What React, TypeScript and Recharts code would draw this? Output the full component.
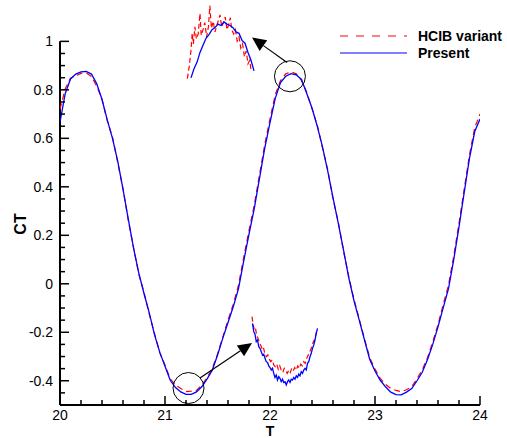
import React from 'react';
import {
  LineChart,
  Line,
  XAxis,
  YAxis,
  Legend,
  ReferenceDot,
  ReferenceLine,
} from 'recharts';

// main time axis, step 0.05
const T_MAIN = [
  20, 20.05, 20.1, 20.15, 20.2, 20.25, 20.3, 20.35, 20.4, 20.45,
  20.5, 20.55, 20.6, 20.65, 20.7, 20.75, 20.8, 20.85, 20.9, 20.95,
  21, 21.05, 21.1, 21.15, 21.2, 21.25, 21.3, 21.35, 21.4, 21.45,
  21.5, 21.55, 21.6, 21.65, 21.7, 21.75, 21.8, 21.85, 21.9, 21.95,
  22, 22.05, 22.1, 22.15, 22.2, 22.25, 22.3, 22.35, 22.4, 22.45,
  22.5, 22.55, 22.6, 22.65, 22.7, 22.75, 22.8, 22.85, 22.9, 22.95,
  23, 23.05, 23.1, 23.15, 23.2, 23.25, 23.3, 23.35, 23.4, 23.45,
  23.5, 23.55, 23.6, 23.65, 23.7, 23.75, 23.8, 23.85, 23.9, 23.95,
  24,
];

const CT_PRESENT = [
  0.667, 0.785, 0.845, 0.865, 0.874, 0.876, 0.865, 0.825, 0.76, 0.676,
  0.6, 0.505, 0.39, 0.268, 0.148, 0.045, -0.04, -0.12, -0.21, -0.282,
  -0.34, -0.398, -0.428, -0.446, -0.456, -0.456, -0.446, -0.425, -0.393, -0.357,
  -0.295, -0.225, -0.16, -0.095, -0.02, 0.095, 0.205, 0.31, 0.435, 0.56,
  0.665, 0.765, 0.83, 0.856, 0.867, 0.862, 0.843, 0.785, 0.725, 0.65,
  0.565, 0.465, 0.355, 0.25, 0.14, 0.025, -0.07, -0.15, -0.232, -0.312,
  -0.36, -0.398, -0.425, -0.447, -0.457, -0.458, -0.447, -0.432, -0.4, -0.365,
  -0.312, -0.25, -0.178, -0.098, -0.02, 0.1, 0.235, 0.378, 0.518, 0.628,
  0.68,
];

const CT_HCIB = [
  0.72, 0.805, 0.848, 0.858, 0.868, 0.87, 0.855, 0.815, 0.762, 0.672,
  0.605, 0.5, 0.392, 0.262, 0.15, 0.04, -0.035, -0.125, -0.205, -0.285,
  -0.335, -0.392, -0.418, -0.432, -0.445, -0.443, -0.44, -0.418, -0.388, -0.35,
  -0.29, -0.22, -0.15, -0.085, -0.005, 0.11, 0.22, 0.325, 0.45, 0.575,
  0.68, 0.78, 0.838, 0.866, 0.874, 0.866, 0.838, 0.79, 0.722, 0.655,
  0.56, 0.47, 0.35, 0.255, 0.135, 0.03, -0.065, -0.145, -0.228, -0.305,
  -0.352, -0.39, -0.415, -0.432, -0.44, -0.445, -0.437, -0.425, -0.392, -0.355,
  -0.305, -0.24, -0.168, -0.085, -0.005, 0.115, 0.25, 0.392, 0.532, 0.645,
  0.7,
];

// zoomed peak (top inset)
const T_PEAK_PRESENT = [
  22.1, 22.11, 22.12, 22.13, 22.14, 22.15, 22.16, 22.17, 22.18, 22.19, 22.2,
  22.21, 22.22, 22.23, 22.24, 22.25, 22.26, 22.27, 22.28, 22.29, 22.3, 22.31,
];
const CT_PEAK_PRESENT = [
  0.79, 0.803, 0.812, 0.826, 0.836, 0.846, 0.851, 0.858, 0.861, 0.866, 0.864,
  0.869, 0.866, 0.864, 0.861, 0.855, 0.853, 0.843, 0.839, 0.826, 0.815, 0.8,
];
const T_PEAK_HCIB = [
  22.088, 22.094, 22.1, 22.104, 22.108, 22.113, 22.118, 22.124, 22.13, 22.134,
  22.14, 22.146, 22.152, 22.158, 22.163, 22.168, 22.174, 22.18, 22.186, 22.192,
  22.197, 22.202, 22.208, 22.214, 22.22, 22.226, 22.231, 22.236, 22.242, 22.248,
  22.254, 22.26, 22.266, 22.272, 22.278, 22.284, 22.29, 22.296, 22.3,
];
const CT_PEAK_HCIB = [
  0.789, 0.806, 0.829, 0.853, 0.838, 0.862, 0.845, 0.852, 0.881, 0.85,
  0.858, 0.868, 0.848, 0.862, 0.892, 0.86, 0.87, 0.855, 0.864, 0.872,
  0.879, 0.862, 0.868, 0.876, 0.858, 0.866, 0.875, 0.858, 0.852, 0.858,
  0.842, 0.848, 0.832, 0.838, 0.82, 0.828, 0.81, 0.815, 0.801,
];

// zoomed trough (bottom inset)
const T_TROUGH_PRESENT = [
  21.09, 21.095, 21.1, 21.105, 21.11, 21.115, 21.12, 21.125, 21.13, 21.135,
  21.14, 21.145, 21.15, 21.155, 21.16, 21.165, 21.17, 21.175, 21.18, 21.185,
  21.19, 21.195, 21.2, 21.205, 21.21, 21.215, 21.22, 21.225, 21.23, 21.235,
  21.24, 21.245, 21.25, 21.255, 21.26, 21.265, 21.27, 21.275, 21.28, 21.285,
  21.29, 21.295, 21.3, 21.305, 21.31, 21.315, 21.32, 21.325, 21.33, 21.335,
  21.34, 21.345, 21.35,
];
const CT_TROUGH_PRESENT = [
  -0.39, -0.4, -0.403, -0.412, -0.41, -0.418, -0.42, -0.424, -0.428, -0.427,
  -0.432, -0.436, -0.437, -0.441, -0.443, -0.446, -0.444, -0.45, -0.455, -0.452,
  -0.458, -0.454, -0.456, -0.46, -0.457, -0.461, -0.46, -0.464, -0.46, -0.458,
  -0.461, -0.457, -0.458, -0.455, -0.457, -0.453, -0.455, -0.451, -0.453, -0.448,
  -0.45, -0.446, -0.444, -0.446, -0.438, -0.436, -0.43, -0.426, -0.42, -0.416,
  -0.41, -0.402, -0.396,
];
const T_TROUGH_HCIB = [
  21.088, 21.092, 21.097, 21.102, 21.107, 21.112, 21.117, 21.122, 21.128, 21.133,
  21.139, 21.145, 21.151, 21.157, 21.163, 21.169, 21.175, 21.181, 21.187, 21.193,
  21.199, 21.205, 21.211, 21.217, 21.223, 21.229, 21.235, 21.241, 21.247, 21.253,
  21.259, 21.265, 21.271, 21.277, 21.283, 21.289, 21.295, 21.301, 21.307, 21.313,
  21.319, 21.325, 21.331, 21.337, 21.343, 21.348,
];
const CT_TROUGH_HCIB = [
  -0.382, -0.39, -0.398, -0.396, -0.405, -0.408, -0.412, -0.416, -0.42, -0.418,
  -0.426, -0.43, -0.428, -0.433, -0.436, -0.434, -0.44, -0.442, -0.439, -0.445,
  -0.441, -0.446, -0.449, -0.444, -0.447, -0.45, -0.446, -0.449, -0.444, -0.447,
  -0.443, -0.446, -0.441, -0.444, -0.439, -0.441, -0.436, -0.438, -0.432, -0.428,
  -0.424, -0.42, -0.414, -0.41, -0.404, -0.398,
];

const X_TICKS = [
  20, 20.2, 20.4, 20.6, 20.8, 21, 21.2, 21.4, 21.6, 21.8, 22,
  22.2, 22.4, 22.6, 22.8, 23, 23.2, 23.4, 23.6, 23.8, 24,
];
const Y_TICKS = [
  -0.5, -0.45, -0.4, -0.35, -0.3, -0.25, -0.2, -0.15, -0.1, -0.05, 0,
  0.05, 0.1, 0.15, 0.2, 0.25, 0.3, 0.35, 0.4, 0.45, 0.5, 0.55, 0.6,
  0.65, 0.7, 0.75, 0.8, 0.85, 0.9, 0.95, 1,
];

const RED = '#ff0000';
const BLUE = '#0000ff';
const FONT = '"Liberation Sans", Arial, sans-serif';

const zip = (ts: number[], vs: number[]) => ts.map((t, i) => ({ t, ct: vs[i] }));

const presentData = zip(T_MAIN, CT_PRESENT);
const hcibData = zip(T_MAIN, CT_HCIB);

const fmt = (v: number) => String(Number(v.toFixed(1)));

function XTick(props: any) {
  const { x, y, payload } = props;
  const v = payload.value;
  const major = Math.abs(v - Math.round(v)) < 1e-6;
  return (
    <g>
      <line x1={x} x2={x} y1={y} y2={y - (major ? 9 : 5)} stroke="#000" strokeWidth={1.5} />
      {major && (
        <text x={x} y={y + 15} textAnchor="middle" fontSize={14} fontFamily={FONT} fill="#000">
          {fmt(v)}
        </text>
      )}
    </g>
  );
}

function YTick(props: any) {
  const { x, y, payload } = props;
  const v = payload.value;
  const major = Math.abs(v * 5 - Math.round(v * 5)) < 1e-6 && v > -0.45;
  return (
    <g>
      <line x1={x} x2={x + (major ? 9 : 5)} y1={y} y2={y} stroke="#000" strokeWidth={1.5} />
      {major && (
        <text x={x - 7} y={y + 5} textAnchor="end" fontSize={14} fontFamily={FONT} fill="#000">
          {fmt(v)}
        </text>
      )}
    </g>
  );
}

// line with a filled arrow head at the second point
function Arrow(props: any) {
  const { x1, y1, x2, y2 } = props;
  const dx = x2 - x1;
  const dy = y2 - y1;
  const len = Math.sqrt(dx * dx + dy * dy);
  const ux = dx / len;
  const uy = dy / len;
  const head = 14;
  const half = 6.5;
  const bx = x2 - ux * head;
  const by = y2 - uy * head;
  const pts = `${x2},${y2} ${bx - uy * half},${by + ux * half} ${bx + uy * half},${by - ux * half}`;
  return (
    <g>
      <line x1={x1} y1={y1} x2={bx} y2={by} stroke="#000" strokeWidth={1.2} />
      <polygon points={pts} fill="#000" />
    </g>
  );
}

function LegendBox(props: any) {
  const { payload } = props;
  return (
    <svg width={175} height={36}>
      {(payload || []).map((entry: any, i: number) => (
        <g key={entry.value} transform={`translate(0, ${i * 17})`}>
          <line
            x1={4}
            x2={71}
            y1={10}
            y2={10}
            stroke={entry.color}
            strokeWidth={1.2}
            strokeDasharray={entry.payload?.strokeDasharray ? '8 8' : undefined}
          />
          <text x={82} y={15} fontSize={14} fontWeight="bold" fontFamily={FONT} fill="#000">
            {entry.value}
          </text>
        </g>
      ))}
    </svg>
  );
}

export default function App() {
  return (
    <div style={{ position: 'absolute', left: 0, top: 0, width: 507, height: 438, background: '#fff', overflow: 'hidden' }}>
      <LineChart width={507} height={438} margin={{ top: 5, right: 27, bottom: 0, left: 0 }}>
        <XAxis
          dataKey="t"
          type="number"
          domain={[20, 24]}
          ticks={X_TICKS}
          interval={0}
          allowDataOverflow
          height={33}
          tickSize={0}
          tickMargin={0}
          tick={<XTick />}
          axisLine={{ stroke: '#000', strokeWidth: 2 }}
          label={{
            content: () => (
              <text x={270} y={435.5} textAnchor="middle" fontSize={14} fontWeight="bold" fontFamily={FONT}>
                T
              </text>
            ),
          }}
        />
        <YAxis
          dataKey="ct"
          type="number"
          domain={[-0.5, 1.15]}
          ticks={Y_TICKS}
          interval={0}
          allowDataOverflow
          width={60}
          tickSize={0}
          tickMargin={0}
          tick={<YTick />}
          axisLine={false}
          label={{
            content: () => (
              <text
                x={26}
                y={224}
                transform="rotate(-90 26 224)"
                textAnchor="middle"
                fontSize={16}
                fontWeight="bold"
                fontFamily={FONT}
              >
                CT
              </text>
            ),
          }}
        />
        <ReferenceLine
          segment={[{ x: 20, y: -0.5 }, { x: 20, y: 1 }]}
          stroke="#000"
          strokeWidth={2}
        />
        <Line
          data={hcibData}
          dataKey="ct"
          name="HCIB variant"
          stroke={RED}
          strokeWidth={1.2}
          strokeDasharray="6 4"
          dot={false}
          type="linear"
          isAnimationActive={false}
        />
        <Line
          data={presentData}
          dataKey="ct"
          name="Present"
          stroke={BLUE}
          strokeWidth={1.3}
          dot={false}
          type="linear"
          isAnimationActive={false}
        />
        <ReferenceDot x={22.19} y={0.856} r={15.5} fill="none" stroke="#000" strokeWidth={1} />
        <ReferenceDot x={21.224} y={-0.43} r={15.5} fill="none" stroke="#000" strokeWidth={1} />
        <ReferenceLine
          segment={[{ x: 22.162, y: 0.913 }, { x: 21.829, y: 1.016 }]}
          shape={(p: any) => <Arrow {...p} />}
        />
        <ReferenceLine
          segment={[{ x: 21.333, y: -0.389 }, { x: 21.829, y: -0.244 }]}
          shape={(p: any) => <Arrow {...p} />}
        />
        <Legend
          layout="vertical"
          align="center"
          verticalAlign="middle"
          content={<LegendBox />}
          wrapperStyle={{ position: 'absolute', left: 336, top: 26, width: 175, height: 36 }}
        />
      </LineChart>

      {/* top inset: magnified peak */}
      <div style={{ position: 'absolute', left: 185, top: 0 }}>
        <LineChart width={72} height={85} margin={{ top: 0, right: 0, bottom: 0, left: 0 }}>
          <XAxis dataKey="t" type="number" domain={[22.08, 22.32]} allowDataOverflow hide />
          <YAxis dataKey="ct" type="number" domain={[0.78, 0.9]} allowDataOverflow hide />
          <Line
            data={zip(T_PEAK_HCIB, CT_PEAK_HCIB)}
            dataKey="ct"
            stroke={RED}
            strokeWidth={1.2}
            strokeDasharray="5 3"
            dot={false}
            type="linear"
            isAnimationActive={false}
          />
          <Line
            data={zip(T_PEAK_PRESENT, CT_PEAK_PRESENT)}
            dataKey="ct"
            stroke={BLUE}
            strokeWidth={1.3}
            dot={false}
            type="linear"
            isAnimationActive={false}
          />
        </LineChart>
      </div>

      {/* bottom inset: magnified trough */}
      <div style={{ position: 'absolute', left: 250, top: 315 }}>
        <LineChart width={70} height={75} margin={{ top: 0, right: 0, bottom: 0, left: 0 }}>
          <XAxis dataKey="t" type="number" domain={[21.08, 21.36]} allowDataOverflow hide />
          <YAxis dataKey="ct" type="number" domain={[-0.47, -0.38]} allowDataOverflow hide />
          <Line
            data={zip(T_TROUGH_HCIB, CT_TROUGH_HCIB)}
            dataKey="ct"
            stroke={RED}
            strokeWidth={1.2}
            strokeDasharray="5 3"
            dot={false}
            type="linear"
            isAnimationActive={false}
          />
          <Line
            data={zip(T_TROUGH_PRESENT, CT_TROUGH_PRESENT)}
            dataKey="ct"
            stroke={BLUE}
            strokeWidth={1.3}
            dot={false}
            type="linear"
            isAnimationActive={false}
          />
        </LineChart>
      </div>
    </div>
  );
}
